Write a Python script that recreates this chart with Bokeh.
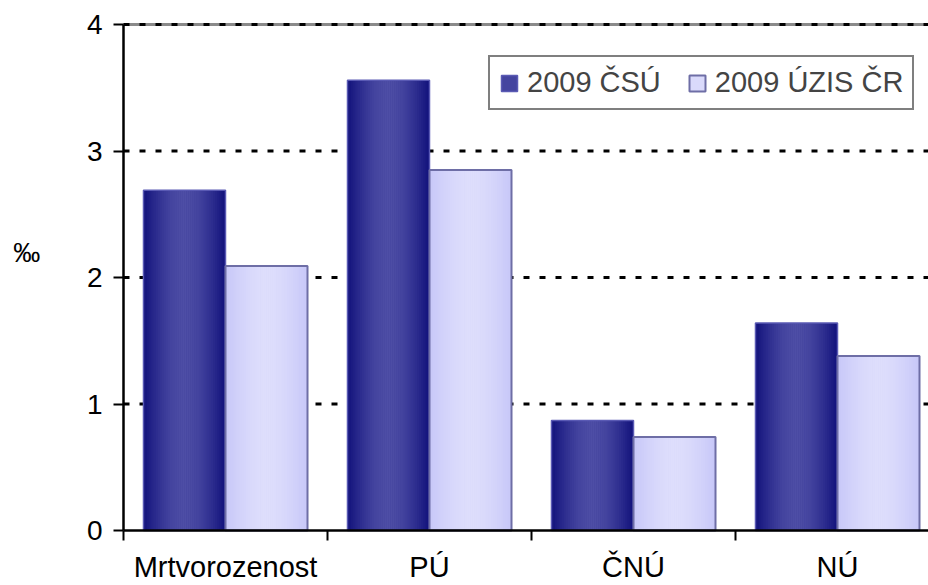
import numpy as np
from bokeh.plotting import figure
from bokeh.models import (FixedTicker, Legend, LegendItem, Label, Range1d)
from bokeh.embed import file_html
from bokeh.resources import INLINE

# ---- data ----
categories = ["Mrtvorozenost", "PÚ", "ČNÚ", "NÚ"]
series_names = ["2009 ČSÚ", "2009 ÚZIS ČR"]
csu_2009 = [2.69, 3.56, 0.87, 1.64]
uzis_2009 = [2.09, 2.85, 0.74, 1.38]
y_ticks = [0, 1, 2, 3, 4]
unit_label = "‰"

FONT = "Liberation Sans"
W, H = 928, 585
PX_X = 204.0     # pixels per category
PX_Y = 126.5     # pixels per unit
X0, Y0 = 123, 530  # page position of the data origin

n = len(categories)
x_end = (W - X0) / PX_X
p = figure(width=W, height=H, output_backend="svg", toolbar_location=None,
           x_range=Range1d(-X0 / PX_X, x_end),
           y_range=Range1d(-(H - Y0) / PX_Y, y_ticks[-1] + (Y0 - PX_Y * y_ticks[-1]) / PX_Y),
           min_border_left=0, min_border_right=0, min_border_top=0,
           min_border_bottom=0)
p.outline_line_color = None
p.background_fill_color = "white"
p.border_fill_color = "white"
p.xgrid.visible = False
p.ygrid.visible = False

# ---- axes (anchored at the data origin) ----
centers = [i + 0.5 for i in range(n)]
xa = p.xaxis[0]
xa.fixed_location = 0
xa.bounds = (0, x_end)
xa.ticker = FixedTicker(ticks=centers, minor_ticks=list(range(n)))
xa.major_label_overrides = {c: lab for c, lab in zip(centers, categories)}
xa.major_tick_line_color = None
xa.major_tick_out = 0
xa.major_tick_in = 0
xa.minor_tick_out = 10
xa.minor_tick_in = 0
xa.minor_tick_line_color = "black"
xa.minor_tick_line_width = 2
xa.axis_line_width = 2.5
xa.axis_line_color = "black"
xa.major_label_text_font = FONT
xa.major_label_text_font_size = "29px"
xa.major_label_text_color = "black"
xa.major_label_standoff = 10

ya = p.yaxis[0]
ya.fixed_location = 0
ya.bounds = (y_ticks[0], y_ticks[-1])
ya.ticker = FixedTicker(ticks=y_ticks, minor_ticks=[])
ya.major_tick_out = 10
ya.major_tick_in = 0
ya.major_tick_line_width = 2
ya.major_tick_line_color = "black"
ya.minor_tick_line_color = None
ya.axis_line_width = 2.5
ya.axis_line_color = "black"
ya.major_label_text_font = FONT
ya.major_label_text_font_size = "28px"
ya.major_label_text_color = "black"
ya.major_label_standoff = 11

# ---- gridlines (from the tick list) ----
inner = [t for t in y_ticks if 0 < t]
top = [y_ticks[-1]]
p.segment(x0=[0] * len(top), x1=[x_end] * len(top), y0=top, y1=top,
          line_color="#8a8a8a", line_width=3)
p.segment(x0=[0] * len(inner), x1=[x_end] * len(inner), y0=inner, y1=inner,
          line_color="black", line_width=3, line_dash="6 10")

# ---- gradient bars (strips over a solid base) ----
N = 40
bw = 0.402
series = [csu_2009, uzis_2009]
offsets = [-bw / 2, bw / 2]
edge_cols = [(16, 16, 122), (198, 198, 248)]
center_cols = [(78, 78, 166), (222, 222, 252)]
base_cols = ["#30308e", "#d2d2f9"]
outline_cols = ["#5a5ab4", "#6e6ea6"]
outline_w = [1.5, 2]

legend_items = []
for s, vals in enumerate(series):
    bar_x = [c + offsets[s] for c in centers]
    p.vbar(x=bar_x, width=bw, top=vals, bottom=0, fill_color=base_cols[s], line_color=None)
    strip_renderers = []
    for k in range(N):
        u = (k + 0.5) / N
        t = abs(u - 0.5) * 2
        f = t ** 1.6
        col = tuple(int(round(center_cols[s][j] + (edge_cols[s][j] - center_cols[s][j]) * f))
                    for j in range(3))
        hexc = "#%02x%02x%02x" % col
        xs = [bx - bw / 2 + u * bw for bx in bar_x]
        r = p.vbar(x=xs, width=bw / N * 1.15, top=vals, bottom=0,
                   fill_color=hexc, line_color=None)
        strip_renderers.append(r)
    ro = p.vbar(x=bar_x, width=bw, top=vals, bottom=0, fill_color=None,
                line_color=outline_cols[s], line_width=outline_w[s])
    legend_items.append(LegendItem(label=series_names[s],
                                   renderers=[strip_renderers[N // 3], ro]))

legend = Legend(items=legend_items, location=(488, 475), orientation="horizontal",
                border_line_color="black", border_line_width=2.5,
                background_fill_color="white", background_fill_alpha=1,
                label_text_font=FONT, label_text_font_size="29px",
                glyph_width=20, glyph_height=20, label_standoff=8, spacing=26,
                padding=9, margin=0)
p.add_layout(legend)

p.add_layout(Label(x=-0.54, y=2.19, text=unit_label, text_font=FONT,
                   text_font_size="27px", text_baseline="middle", text_color="black"))

open("out.html", "w").write(file_html(p, INLINE))
